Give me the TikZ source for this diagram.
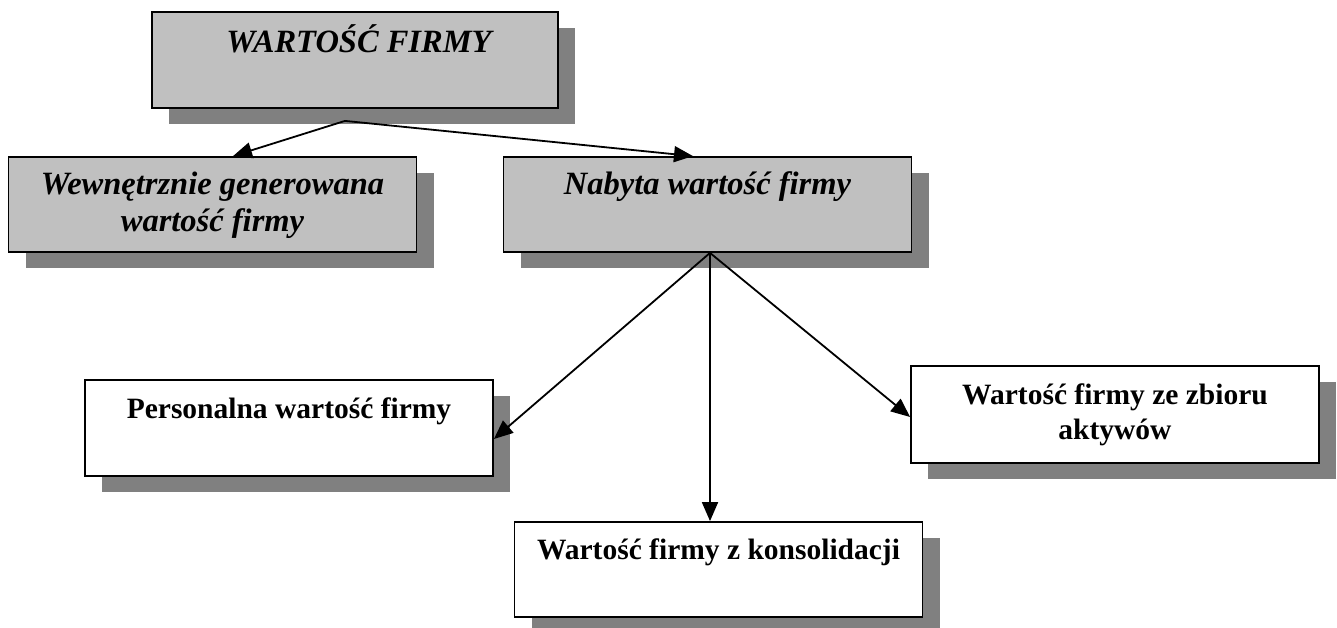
\documentclass[tikz,border=0pt]{standalone}
\usepackage{fontspec}
\setmainfont{Liberation Serif}
\usetikzlibrary{arrows.meta,shadows,calc}
\definecolor{boxgray}{HTML}{C0C0C0}
\definecolor{shadegray}{HTML}{808080}

\begin{document}
\begin{tikzpicture}[x=1pt,y=-1pt,
  box/.style={draw=black, line width=1.8pt, minimum width=408pt, minimum height=96pt, inner sep=0pt,
    drop shadow={shadow xshift=17pt, shadow yshift=-16pt, fill=shadegray, opacity=1}},
  greybox/.style={box, fill=boxgray},
  whitebox/.style={box, fill=white},
  itxt/.style={anchor=base, inner sep=0pt, font=\fontsize{32.5}{37}\selectfont\bfseries\itshape},
  btxt/.style={anchor=base, inner sep=0pt, font=\fontsize{29.5}{34}\selectfont\bfseries},
  link/.style={line width=1.8pt, -{Triangle[length=19pt,width=16pt]}}
]
\useasboundingbox (0,0) rectangle (1337,627);

% boxes
\node[greybox, minimum width=406pt] (top) at (355,60) {};
\node[greybox, minimum height=95pt] (inner) at (212.5,204.5) {};
\node[greybox, minimum height=95pt] (acq) at (707.5,204.5) {};
\node[whitebox] (pers) at (289,428) {};
\node[whitebox, minimum height=97pt] (assets) at (1115,414.5) {};
\node[whitebox, minimum height=95pt] (cons) at (718.5,569.5) {};

% texts, set at the top of each box
\node[itxt] (topT) at ($(top.north)+(4,41)$) {WARTOŚĆ FIRMY};
\node[itxt] (innerT1) at ($(inner.north)+(0,38)$) {Wewnętrznie generowana};
\node[itxt] (innerT2) at ($(inner.north)+(0,75)$) {wartość firmy};
\node[itxt] (acqT) at ($(acq.north)+(0,38)$) {Nabyta wartość firmy};
\node[btxt] (persT) at ($(pers.north)+(0,39)$) {Personalna wartość firmy};
\node[btxt] (assetsT1) at ($(assets.north)+(0,39)$) {Wartość firmy ze zbioru};
\node[btxt] (assetsT2) at ($(assets.north)+(0,74)$) {aktywów};
\node[btxt] (consT) at ($(cons.north)+(0,38)$) {Wartość firmy z konsolidacji};

% connectors
\coordinate (split) at ($(top.south)+(-10,12)$);
\draw[link] (split) -- ($(inner.north)+(20.5,0)$);
\draw[link] (split) -- ($(acq.north)+(-14.5,0)$);
\coordinate (hub) at ($(acq.south)+(2.5,0)$);
\draw[link] (hub) -- ($(pers.east)+(0,11)$);
\draw[link] (hub) -- ($(assets.west)+(0,2.5)$);
\draw[link] (hub) -- (hub |- cons.north);
\end{tikzpicture}
\end{document}
